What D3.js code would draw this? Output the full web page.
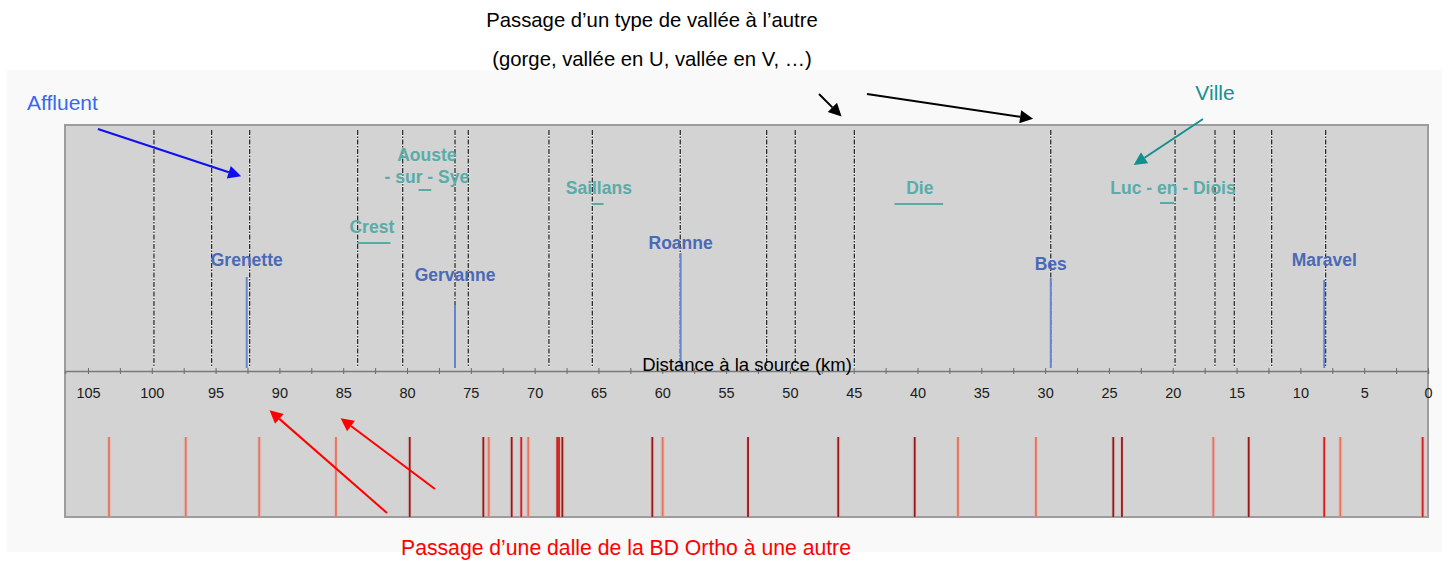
<!DOCTYPE html>
<html>
<head>
<meta charset="utf-8">
<script src="https://cdn.jsdelivr.net/npm/d3@7"></script>
<style>
  body { margin: 0; background: #fff; }
  svg { display: block; font-family: Arial, "Liberation Sans", sans-serif; }
</style>
</head>
<body>
<div id="chart"></div>
<script>
// distance to the source (km) - axis ticks
var tickValues = d3.range(0, 105.1, 2.5);

// changes of valley type (dashed lines)
var valleyBreaks = [99.83, 95.31, 92.33, 83.87, 80.34, 76.24, 75.20, 68.88, 65.48, 58.59,
                    51.82, 49.58, 44.95, 29.56, 19.82, 16.69, 15.18, 12.25, 8.02];

// tributaries
var tributaryNames = ["Grenette", "Gervanne", "Roanne", "Bes", "Maravel"];
var tributaryKm = [92.56, 76.24, 58.56, 29.56, 8.13];

// towns (label lines, extent along the river)
var cityNames = [["Crest"], ["Aouste", "- sur - Sye"], ["Saillans"], ["Die"], ["Luc - en - Diois"]];
var cityStartKm = [83.9, 79.1, 65.5, 41.8, 21.0];
var cityEndKm = [81.3, 78.1, 64.6, 38.0, 19.9];

// BD Ortho tile boundaries
var tileKm = [103.35, 97.34, 91.58, 85.57, 79.79, 74.02, 73.60, 71.80, 71.05, 70.50, 68.23, 68.09,
              67.83, 60.78, 59.97, 53.28, 46.21, 40.22, 36.83, 30.72, 24.66, 23.98, 16.82, 14.05,
              8.13, 6.87, 0.42];
var tileShade = ["s", "s", "s", "s", "d", "d", "s", "d", "r", "s", "r", "r",
                 "d", "d", "s", "d", "d", "d", "s", "s", "d", "d", "s", "d",
                 "r", "s", "r"];

//*************** layout ****************
var width = 1451;
var height = 562;
var panelLeft = 65, panelRight = 1428, panelTop = 125, axisY = 371, panelBottom = 517;

var tributaryLabelY = [260, 275, 243, 264, 260];
var tributaryLineTop = [277, 305, 253, 278, 280];
var cityLabelY = [227, 155, 188, 188, 188];
var cityLineY = [243, 190, 204, 204, 203];
var cityLabelDx = [-2, 2, 1, 1, 6];
var shadeColor = { d: "#8e1b1b", r: "#cc1f1f", s: "#e3765f" };

var x = d3.scaleLinear().domain([106.8, 0]).range([panelLeft, panelRight]);

var svg = d3.select("#chart")
    .append("svg")
    .attr("width", width)
    .attr("height", height);

// light page background
svg.append("rect")
    .attr("x", 7).attr("y", 70)
    .attr("width", 1435).attr("height", 482)
    .attr("fill", "#f9f9f9");

// grey panel
svg.append("rect")
    .attr("x", panelLeft).attr("y", panelTop)
    .attr("width", panelRight - panelLeft).attr("height", panelBottom - panelTop)
    .attr("fill", "#d3d3d3")
    .attr("stroke", "#9c9c9c")
    .attr("stroke-width", 2);

// valley type changes
var valley = svg.append("g");
valley.selectAll(".vw")
    .data(valleyBreaks)
    .enter().append("line")
    .attr("x1", function(d){ return x(d); })
    .attr("x2", function(d){ return x(d); })
    .attr("y1", 130).attr("y2", 367)
    .attr("stroke", "#f4f4f4")
    .attr("stroke-width", 2)
    .attr("stroke-opacity", 0.7);
valley.selectAll(".vb")
    .data(valleyBreaks)
    .enter().append("line")
    .attr("x1", function(d){ return x(d); })
    .attr("x2", function(d){ return x(d); })
    .attr("y1", 130).attr("y2", 367)
    .attr("stroke", "#2a2a2a")
    .attr("stroke-width", 1.3)
    .attr("stroke-dasharray", "5,1.5,1.5,1.5");

// tributaries
var trib = svg.append("g");
trib.selectAll("line")
    .data(tributaryKm)
    .enter().append("line")
    .attr("x1", function(d){ return x(d); })
    .attr("x2", function(d){ return x(d); })
    .attr("y1", function(d, i){ return tributaryLineTop[i]; })
    .attr("y2", 368)
    .attr("stroke", "#6686cc")
    .attr("stroke-width", 2);
trib.selectAll("text")
    .data(tributaryNames)
    .enter().append("text")
    .attr("x", function(d, i){ return x(tributaryKm[i]); })
    .attr("y", function(d, i){ return tributaryLabelY[i]; })
    .attr("dy", "0.35em")
    .attr("text-anchor", "middle")
    .attr("font-size", 17.5)
    .attr("font-weight", "bold")
    .attr("fill", "#4b69b6")
    .text(function(d){ return d; });

// towns
var city = svg.append("g");
city.selectAll("line")
    .data(cityNames)
    .enter().append("line")
    .attr("x1", function(d, i){ return x(cityStartKm[i]); })
    .attr("x2", function(d, i){ return x(cityEndKm[i]); })
    .attr("y1", function(d, i){ return cityLineY[i]; })
    .attr("y2", function(d, i){ return cityLineY[i]; })
    .attr("stroke", "#5aaaa5")
    .attr("stroke-width", 2);
city.selectAll("text")
    .data(cityNames)
    .enter().append("text")
    .attr("text-anchor", "middle")
    .attr("font-size", 17.5)
    .attr("font-weight", "bold")
    .attr("fill", "#5aaca8")
    .each(function(d, i){
        var cx = (x(cityStartKm[i]) + x(cityEndKm[i])) / 2 + cityLabelDx[i];
        d3.select(this).selectAll("tspan")
            .data(d)
            .enter().append("tspan")
            .attr("x", cx)
            .attr("y", function(t, j){ return cityLabelY[i] + j * 22; })
            .attr("dy", "0.35em")
            .text(function(t){ return t; });
    });

// tile boundaries
var tiles = svg.append("g");
tiles.selectAll(".halo")
    .data(tileKm)
    .enter().append("line")
    .attr("x1", function(d){ return x(d); })
    .attr("x2", function(d){ return x(d); })
    .attr("y1", 437).attr("y2", panelBottom)
    .attr("stroke", "#f2a3a0")
    .attr("stroke-width", 4)
    .attr("stroke-opacity", 0.45);
tiles.selectAll(".core")
    .data(tileKm)
    .enter().append("line")
    .attr("x1", function(d){ return x(d); })
    .attr("x2", function(d){ return x(d); })
    .attr("y1", 437).attr("y2", panelBottom)
    .attr("stroke", function(d, i){ return shadeColor[tileShade[i]]; })
    .attr("stroke-width", 1.8);

// axis
var axis = d3.axisBottom(x)
    .tickValues(tickValues)
    .tickSize(3)
    .tickFormat(function(d){ return d % 5 === 0 ? d : ""; });

var gAxis = svg.append("g")
    .attr("transform", "translate(0," + axisY + ")")
    .call(axis);
gAxis.select(".domain").attr("stroke", "#7a7a7a").attr("stroke-width", 1.5);
gAxis.selectAll(".tick line").attr("y1", -3).attr("stroke", "#6a6a6a");
gAxis.selectAll(".tick text")
    .attr("y", 22)
    .attr("dy", "0.35em")
    .attr("font-size", 14.5)
    .attr("font-family", "Arial, 'Liberation Sans', sans-serif")
    .attr("fill", "#1a1a1a");

svg.append("text")
    .attr("x", 747).attr("y", 365)
    .attr("dy", "0.35em")
    .attr("text-anchor", "middle")
    .attr("font-size", 18.5)
    .attr("fill", "#000")
    .text("Distance à la source (km)");

// annotations
var defs = svg.append("defs");
function arrowMarker(id, color){
    defs.append("marker")
        .attr("id", id)
        .attr("viewBox", "0 0 10 10")
        .attr("refX", 0).attr("refY", 5)
        .attr("markerUnits", "userSpaceOnUse")
        .attr("markerWidth", 15).attr("markerHeight", 13)
        .attr("orient", "auto")
        .append("path")
        .attr("d", "M0,0L10,5L0,10Z")
        .attr("fill", color);
}
arrowMarker("ab", "#1010ee");
arrowMarker("ak", "#000");
arrowMarker("at", "#138f8f");
arrowMarker("ar", "#ff0000");

function arrow(x1, y1, x2, y2, color, marker){
    var dx = x2 - x1, dy = y2 - y1;
    var len = Math.sqrt(dx * dx + dy * dy);
    var ex = x2 - dx / len * 15, ey = y2 - dy / len * 15;
    svg.append("line")
        .attr("x1", x1).attr("y1", y1)
        .attr("x2", ex).attr("y2", ey)
        .attr("stroke", color)
        .attr("stroke-width", 2)
        .attr("marker-end", "url(#" + marker + ")");
}

arrow(x(104.22), 129, x(92.85), 177, "#1010ee", "ab");
arrow(x(47.72), 94, x(45.84), 118, "#000", "ak");
arrow(x(43.96), 94, x(30.79), 119, "#000", "ak");
arrow(x(17.63), 119, x(23.19), 166, "#138f8f", "at");
arrow(x(81.57), 513, x(90.89), 409, "#ff0000", "ar");
arrow(x(77.81), 489, x(85.33), 417, "#ff0000", "ar");

svg.append("text")
    .attr("x", 652).attr("y", 20).attr("dy", "0.35em")
    .attr("text-anchor", "middle").attr("font-size", 20.3)
    .text("Passage d’un type de vallée à l’autre");
svg.append("text")
    .attr("x", 652).attr("y", 59).attr("dy", "0.35em")
    .attr("text-anchor", "middle").attr("font-size", 20.3)
    .text("(gorge, vallée en U, vallée en V, …)");
svg.append("text")
    .attr("x", 27).attr("y", 103).attr("dy", "0.35em")
    .attr("font-size", 21).attr("fill", "#3a66f0")
    .text("Affluent");
svg.append("text")
    .attr("x", 1215).attr("y", 93).attr("dy", "0.35em")
    .attr("text-anchor", "middle")
    .attr("font-size", 21).attr("fill", "#169191")
    .text("Ville");
svg.append("text")
    .attr("x", 401).attr("y", 548).attr("dy", "0.35em")
    .attr("font-size", 21.2).attr("fill", "#ff0000")
    .text("Passage d’une dalle de la BD Ortho à une autre");
</script>
</body>
</html>
